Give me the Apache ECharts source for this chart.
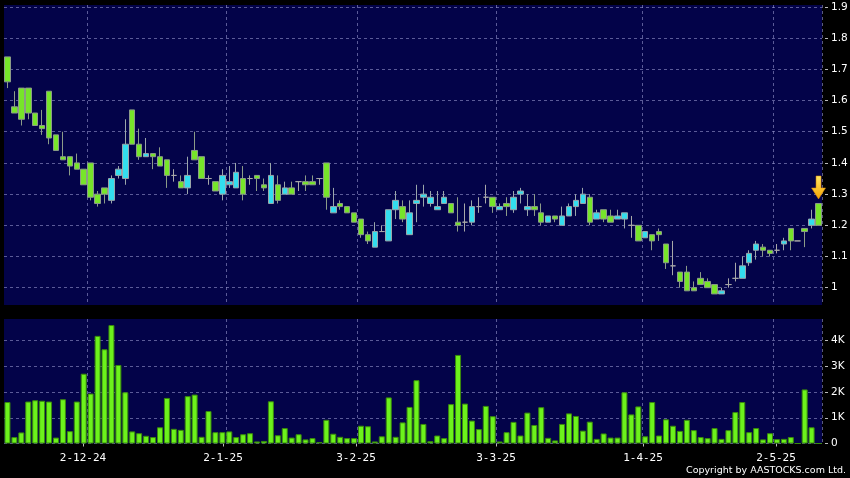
<!DOCTYPE html>
<html><head><meta charset="utf-8">
<script src="https://cdn.jsdelivr.net/npm/echarts@6/dist/echarts.min.js"></script>
<style>html,body{margin:0;padding:0;background:#000;}#c{width:850px;height:478px;}</style>
</head><body><div id="c"></div>
<script>
const dates = [
'15-11-24','18-11-24','19-11-24','20-11-24','21-11-24','22-11-24','25-11-24','26-11-24','27-11-24','28-11-24','29-11-24',
'2-12-24','3-12-24','4-12-24','5-12-24','6-12-24','9-12-24','10-12-24','11-12-24','12-12-24','13-12-24','16-12-24','17-12-24','18-12-24','19-12-24','20-12-24','23-12-24','24-12-24','27-12-24','30-12-24','31-12-24',
'2-1-25','3-1-25','6-1-25','7-1-25','8-1-25','9-1-25','10-1-25','13-1-25','14-1-25','15-1-25','16-1-25','17-1-25','20-1-25','21-1-25','22-1-25','23-1-25','24-1-25','27-1-25','28-1-25',
'3-2-25','4-2-25','5-2-25','6-2-25','7-2-25','10-2-25','11-2-25','12-2-25','13-2-25','14-2-25','17-2-25','18-2-25','19-2-25','20-2-25','21-2-25','24-2-25','25-2-25','26-2-25','27-2-25','28-2-25',
'3-3-25','4-3-25','5-3-25','6-3-25','7-3-25','10-3-25','11-3-25','12-3-25','13-3-25','14-3-25','17-3-25','18-3-25','19-3-25','20-3-25','21-3-25','24-3-25','25-3-25','26-3-25','27-3-25','28-3-25','31-3-25',
'1-4-25','2-4-25','3-4-25','7-4-25','8-4-25','9-4-25','10-4-25','11-4-25','14-4-25','15-4-25','16-4-25','17-4-25','22-4-25','23-4-25','24-4-25','25-4-25','28-4-25','29-4-25','30-4-25',
'2-5-25','6-5-25','7-5-25','8-5-25','9-5-25','12-5-25','13-5-25','14-5-25'
];
const tickLabels = ['2-12-24','2-1-25','3-2-25','3-3-25','1-4-25','2-5-25'];
const priceTicks = [1.0,1.1,1.2,1.3,1.4,1.5,1.6,1.7,1.8,1.9];
const volumeTicks = [0,1,2,3,4];

const openP = [
1.74,1.58,1.64,1.64,1.56,1.52,1.63,1.49,1.42,1.42,
1.40,1.38,1.40,1.30,1.32,1.28,1.36,1.35,1.57,1.46,
1.42,1.43,1.42,1.41,1.36,1.34,1.32,1.44,1.42,1.35,
1.34,1.30,1.33,1.32,1.35,1.35,1.36,1.33,1.27,1.33,
1.30,1.32,1.34,1.34,1.34,1.35,1.40,1.24,1.27,1.26,
1.24,1.22,1.17,1.13,1.18,1.15,1.25,1.26,1.17,1.27,
1.29,1.27,1.25,1.27,1.27,1.21,1.21,1.21,1.26,1.29,
1.29,1.25,1.27,1.25,1.30,1.25,1.26,1.24,1.21,1.23,
1.20,1.23,1.26,1.27,1.29,1.22,1.25,1.23,1.22,1.22,
1.20,1.20,1.16,1.17,1.18,1.14,1.07,1.05,1.05,1.00,
1.03,1.02,1.01,0.98,1.01,1.03,1.03,1.08,1.12,1.13,
1.12,1.12,1.14,1.19,1.15,1.19,1.20,1.27
];
const closeP = [
1.66,1.56,1.54,1.56,1.52,1.51,1.48,1.44,1.41,1.39,
1.38,1.33,1.29,1.27,1.30,1.35,1.38,1.46,1.46,1.42,
1.43,1.42,1.39,1.36,1.36,1.32,1.36,1.41,1.35,1.35,
1.31,1.36,1.34,1.37,1.30,1.35,1.35,1.32,1.36,1.28,
1.32,1.30,1.34,1.33,1.33,1.35,1.29,1.26,1.26,1.24,
1.21,1.17,1.15,1.18,1.18,1.25,1.28,1.22,1.24,1.28,
1.30,1.29,1.26,1.29,1.24,1.20,1.21,1.26,1.26,1.29,
1.26,1.26,1.26,1.29,1.31,1.26,1.25,1.21,1.23,1.22,
1.23,1.26,1.28,1.30,1.21,1.24,1.22,1.21,1.23,1.24,
1.20,1.15,1.18,1.15,1.17,1.08,1.07,1.02,0.99,0.99,
1.01,1.00,0.98,0.99,1.01,1.03,1.07,1.11,1.14,1.12,
1.11,1.12,1.15,1.15,1.15,1.18,1.22,1.20
];
const lowP = [
1.64,1.56,1.52,1.54,1.52,1.49,1.46,1.44,1.41,1.36,
1.38,1.33,1.28,1.26,1.27,1.27,1.35,1.33,1.46,1.41,
1.42,1.38,1.39,1.32,1.34,1.32,1.30,1.41,1.35,1.33,
1.31,1.28,1.32,1.32,1.28,1.33,1.31,1.31,1.27,1.27,
1.30,1.30,1.31,1.31,1.33,1.33,1.25,1.24,1.25,1.24,
1.21,1.16,1.14,1.13,1.18,1.15,1.22,1.21,1.17,1.21,
1.26,1.26,1.25,1.27,1.24,1.18,1.18,1.20,1.24,1.27,
1.24,1.25,1.23,1.24,1.27,1.23,1.23,1.20,1.21,1.21,
1.20,1.23,1.23,1.27,1.20,1.22,1.21,1.21,1.22,1.19,
1.16,1.15,1.16,1.12,1.15,1.06,1.04,1.00,0.99,0.99,
1.01,1.00,0.98,0.98,1.00,1.02,1.03,1.07,1.09,1.10,
1.10,1.11,1.12,1.12,1.15,1.13,1.19,1.20
];
const highP = [
1.74,1.63,1.64,1.64,1.56,1.57,1.63,1.49,1.50,1.42,
1.43,1.38,1.40,1.31,1.32,1.36,1.39,1.54,1.57,1.51,
1.48,1.43,1.45,1.41,1.38,1.36,1.42,1.50,1.42,1.36,
1.34,1.38,1.39,1.40,1.39,1.36,1.36,1.35,1.40,1.36,
1.34,1.34,1.34,1.36,1.36,1.35,1.40,1.32,1.28,1.26,
1.24,1.22,1.18,1.21,1.20,1.25,1.31,1.28,1.28,1.33,
1.33,1.31,1.31,1.31,1.27,1.29,1.27,1.28,1.29,1.33,
1.29,1.27,1.29,1.31,1.32,1.30,1.30,1.27,1.23,1.23,
1.26,1.27,1.30,1.32,1.30,1.25,1.25,1.25,1.25,1.24,
1.23,1.20,1.18,1.17,1.19,1.14,1.15,1.05,1.07,1.02,
1.05,1.03,1.01,1.00,1.03,1.08,1.10,1.12,1.15,1.14,
1.12,1.14,1.16,1.19,1.15,1.19,1.25,1.27
];
const volumeK = [
1.61,0.25,0.43,1.63,1.68,1.66,1.63,0.23,1.72,0.48,
1.63,2.71,1.94,4.18,3.66,4.60,3.05,1.99,0.47,0.40,
0.30,0.25,0.63,1.77,0.57,0.53,1.84,1.90,0.26,1.26,
0.44,0.44,0.47,0.25,0.36,0.40,0.08,0.10,1.64,0.32,
0.60,0.23,0.36,0.16,0.21,0.06,0.92,0.38,0.26,0.21,
0.21,0.69,0.67,0.08,0.28,1.79,0.26,0.82,1.42,2.46,
0.76,0.09,0.31,0.21,1.53,3.44,1.55,0.89,0.56,1.46,
1.06,0.08,0.44,0.84,0.31,1.20,0.72,1.41,0.22,0.12,
0.76,1.17,1.07,0.50,0.85,0.18,0.39,0.23,0.23,1.99,
1.13,1.44,0.28,1.61,0.31,0.94,0.69,0.49,0.92,0.52,
0.25,0.21,0.60,0.18,0.52,1.22,1.61,0.44,0.60,0.16,
0.40,0.17,0.18,0.25,0,2.10,0.63,0
];

const candles = dates.map((d, i) => [openP[i], closeP[i], lowP[i], highP[i]]);
const isTick = v => tickLabels.indexOf(v) >= 0;
const NAVY = '#030349';
const GRIDC = 'rgba(150,150,205,0.6)';
const splitX = {show: true, interval: (i) => i > 0 && isTick(dates[i - 1]), lineStyle: {color: GRIDC, type: [3, 3], width: 1}};

const chart = echarts.init(document.getElementById('c'));
chart.setOption({
  backgroundColor: '#000000',
  animation: false,
  grid: [
    {left: 4, right: 28, top: 5, height: 300, show: true, backgroundColor: NAVY, borderWidth: 0, outerBoundsMode: 'none'},
    {left: 4, right: 28, top: 319, height: 124.5, show: true, backgroundColor: NAVY, borderWidth: 0, outerBoundsMode: 'none'},
    {left: 2.5, right: 21.5, top: 319, height: 124.5, show: false, outerBoundsMode: 'none'}
  ],
  xAxis: [
    {type: 'category', gridIndex: 0, data: dates, boundaryGap: true, axisLine: {show: false}, axisTick: {show: false}, axisLabel: {show: false}, splitLine: splitX},
    {type: 'category', gridIndex: 1, data: dates, boundaryGap: true, axisLine: {show: false}, axisTick: {show: false}, axisLabel: {show: false}, splitLine: splitX},
    {type: 'category', gridIndex: 2, data: dates, boundaryGap: true, position: 'bottom', offset: 3,
     axisLine: {show: false},
     axisTick: {show: true, alignWithLabel: true, interval: (i, v) => isTick(v), length: 3, lineStyle: {color: '#bbbbbb'}},
     axisLabel: {show: true, interval: (i, v) => isTick(v), color: '#ffffff', fontFamily: 'DejaVu Sans Mono', fontSize: 11, margin: 6},
     splitLine: {show: false}}
  ],
  yAxis: [
    {type: 'value', gridIndex: 0, position: 'right', min: 0.9445, max: 1.9064, offset: 3,
     axisLine: {show: false},
     axisTick: {show: true, length: 3, customValues: priceTicks, lineStyle: {color: '#bbbbbb'}},
     axisLabel: {customValues: priceTicks, color: '#ffffff', fontFamily: 'DejaVu Sans', fontSize: 10.5, margin: 6,
                 formatter: v => String(+(+v).toFixed(1))},
     splitLine: {show: true, lineStyle: {color: GRIDC, type: [3, 3], width: 1}}},
    {type: 'value', gridIndex: 1, position: 'right', min: 0, max: 4.835, offset: 3,
     axisLine: {show: false},
     axisTick: {show: true, length: 3, customValues: volumeTicks, lineStyle: {color: '#bbbbbb'}},
     axisLabel: {customValues: volumeTicks, color: '#ffffff', fontFamily: 'DejaVu Sans', fontSize: 10.5, margin: 6,
                 formatter: v => (+v === 0 ? '0' : Math.round(v) + 'K')},
     splitLine: {show: true, lineStyle: {color: GRIDC, type: [3, 3], width: 1}}},
    {type: 'value', gridIndex: 2, show: false, min: 0, max: 1}
  ],
  series: [
    {type: 'candlestick', xAxisIndex: 0, yAxisIndex: 0, data: candles, barWidth: 6,
     itemStyle: {color: '#33DDEE', color0: '#77E52A', borderColor: '#9aa6aa', borderColor0: '#8c9c88', borderColorDoji: '#a8a8a8', borderWidth: 1},
     markPoint: {
       silent: true,
       symbol: 'path://M4.5,0 L9.5,0 L9.5,12 L14,12 L7,23 L0,12 L4.5,12 Z',
       symbolSize: [14, 23], symbolOffset: [0, -16],
       label: {show: false},
       itemStyle: {color: new echarts.graphic.LinearGradient(0, 0, 0, 1, [{offset: 0, color: '#FFE866'}, {offset: 1, color: '#F5A300'}]), borderColor: '#E08A00', borderWidth: 0.5},
       data: [{coord: [dates.length - 1, highP[highP.length - 1]]}]
     }},
    {type: 'bar', xAxisIndex: 1, yAxisIndex: 1, data: volumeK, barWidth: 6,
     itemStyle: {color: '#6CF21C', borderColor: '#3A8A0C', borderWidth: 1}}
  ],
  graphic: [
    {type: 'text', right: 4, top: 466, style: {text: 'Copyright by AASTOCKS.com Ltd.', fill: '#ffffff', font: '9.5px "DejaVu Sans"'}}
  ]
});
</script>
</body></html>
